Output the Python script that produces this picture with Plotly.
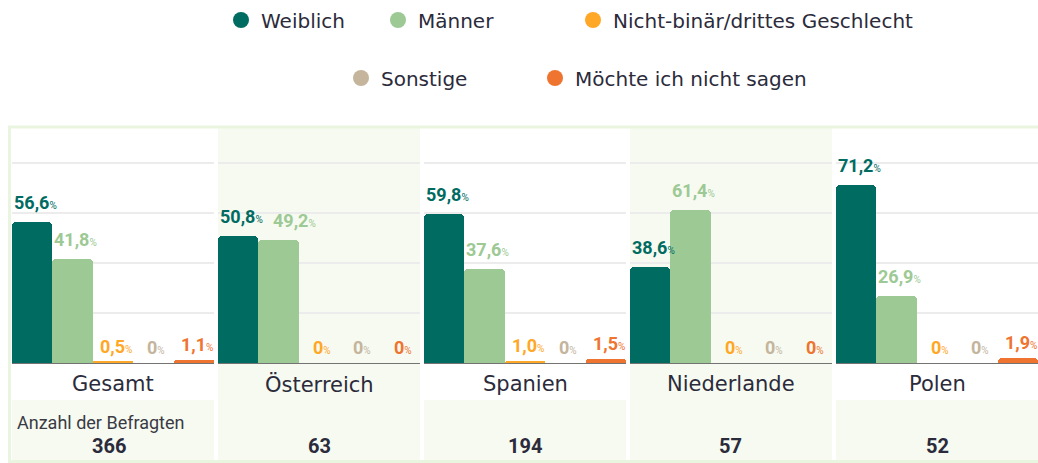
import plotly.graph_objects as go
from plotly.subplots import make_subplots

# ---------------- data ----------------
categories = ["Gesamt", "Österreich", "Spanien", "Niederlande", "Polen"]
series_names = ["Weiblich", "Männer", "Nicht-binär/drittes Geschlecht", "Sonstige", "Möchte ich nicht sagen"]
weiblich = [56.6, 50.8, 59.8, 38.6, 71.2]
maenner = [41.8, 49.2, 37.6, 61.4, 26.9]
nicht_binaer = [0.5, 0.0, 1.0, 0.0, 0.0]
sonstige = [0.0, 0.0, 0.0, 0.0, 0.0]
keine_angabe = [1.1, 0.0, 1.5, 0.0, 1.9]
befragte = [366, 63, 194, 57, 52]
befragte_label = "Anzahl der Befragten"

# ---------------- style ----------------
colors = ["#006b61", "#9dc994", "#ffa726", "#c4b59c", "#ee7430"]
W, H = 1038, 463
ML, MR, MT, MB = 12, 0, 128, 100
PW, PH = W - ML - MR, H - MT - MB
FONT = "DejaVu Sans"
LABEL_FONT = "Roboto"
DARK = "#2b2b3b"
LIGHT_BG = "#f6faf1"
BORDER = "#eaf5df"
# legend item marker centres (px) : one legend box per entry
legend_pos = [(241, 20), (398, 20), (593, 20), (361, 78), (555, 78)]


def px_x(p):
    return (p - ML) / PW


def px_y(p):
    return (H - MB - p) / PH


def fmt(v):
    s = "0" if v == 0 else f"{v:.1f}".replace(".", ",")
    return f"<b>{s}</b><span style='font-size:10px'>%</span>"


series = [weiblich, maenner, nicht_binaer, sonstige, keine_angabe]
n = len(categories)
gap = 4 / PW
fig = make_subplots(rows=1, cols=n, shared_yaxes=False, horizontal_spacing=gap)

annotations = []
for ci, cat in enumerate(categories):
    vals = [s[ci] for s in series]
    fig.add_trace(
        go.Bar(
            x=list(range(len(series))),
            y=vals,
            marker=dict(color=colors, cornerradius=4, line=dict(width=0)),
            showlegend=False,
            hoverinfo="skip",
        ),
        row=1, col=ci + 1,
    )
    xa = "x" if ci == 0 else f"x{ci + 1}"
    ya = "y" if ci == 0 else f"y{ci + 1}"
    for si, v in enumerate(vals):
        # simple collision avoidance with the previous label
        crowded = si > 0 and vals[si - 1] > 5 and abs(vals[si - 1] - v) < 4
        annotations.append(dict(
            text=fmt(v), xref=xa, yref=ya, x=si, y=v, xanchor="center", yanchor="bottom",
            xshift=16 if crowded else 3, yshift=7 if v > 5 else 3, showarrow=False,
            font=dict(family=LABEL_FONT, size=18, color=colors[si]),
        ))

# legend entries (circle markers), each in its own legend box
layout_legends = {}
for si, name in enumerate(series_names):
    key = "legend" if si == 0 else f"legend{si + 1}"
    fig.add_trace(
        go.Scatter(
            x=[None], y=[None], mode="markers", name=name,
            marker=dict(symbol="circle", size=19, color=colors[si]),
            legend=key,
        ),
        row=1, col=1,
    )
    cx, cy = legend_pos[si]
    layout_legends[key] = dict(
        orientation="h", x=(cx - 20) / W, xanchor="left", xref="container",
        y=1 - cy / H, yanchor="middle", yref="container",
        font=dict(family=FONT, size=20, color=DARK), itemsizing="trace",
        bgcolor="rgba(0,0,0,0)",
    )

shapes = []
for ci, cat in enumerate(categories):
    xr = "x domain" if ci == 0 else f"x{ci + 1} domain"
    top_bg = LIGHT_BG if ci % 2 == 1 else "white"
    shapes.append(dict(type="rect", xref=xr, yref="paper", x0=0, x1=1,
                       y0=px_y(400), y1=px_y(128), fillcolor=top_bg,
                       line=dict(width=0), layer="below"))
    shapes.append(dict(type="rect", xref=xr, yref="paper", x0=0, x1=1,
                       y0=px_y(460), y1=px_y(400), fillcolor=LIGHT_BG,
                       line=dict(width=0), layer="below"))
    annotations.append(dict(text=cat, xref=xr, yref="paper", x=0.5, y=px_y(384),
                            showarrow=False, font=dict(family=FONT, size=21, color=DARK),
                            xanchor="center", yanchor="middle"))
    annotations.append(dict(text=f"<b>{befragte[ci]}</b>", xref=xr, yref="paper",
                            x=0.48 if ci == 0 else 0.5, y=px_y(446),
                            showarrow=False, font=dict(family=LABEL_FONT, size=20, color=DARK),
                            xanchor="center", yanchor="middle"))

annotations.append(dict(text=befragte_label, xref="paper", yref="paper", x=px_x(15), y=px_y(422),
                        showarrow=False, font=dict(family=LABEL_FONT, size=18, color="#3a3a44"),
                        xanchor="left", yanchor="middle"))

# outer border
shapes.append(dict(type="rect", xref="paper", yref="paper", x0=px_x(9.5), x1=px_x(1045),
                   y0=px_y(461.5), y1=px_y(127), line=dict(color=BORDER, width=3),
                   fillcolor="rgba(0,0,0,0)", layer="below"))

fig.update_xaxes(range=[-0.5, 4.5], showticklabels=False, ticks="", showgrid=False,
                 zeroline=False, showline=True, linecolor="#737373", linewidth=1)
fig.update_yaxes(range=[0, 94], tickvals=[20, 40, 60, 80], showticklabels=False, ticks="",
                 showgrid=True, gridcolor="#ececec", gridwidth=1.5, zeroline=False)

fig.update_layout(
    width=W, height=H,
    margin=dict(l=ML, r=MR, t=MT, b=MB),
    paper_bgcolor="white",
    plot_bgcolor="rgba(0,0,0,0)",
    bargap=0,
    shapes=shapes,
    annotations=annotations,
    font=dict(family=FONT, color=DARK),
    **layout_legends,
)

fig.write_html("out.html", config={"displayModeBar": False},
               post_script="document.body.style.margin='0';")
